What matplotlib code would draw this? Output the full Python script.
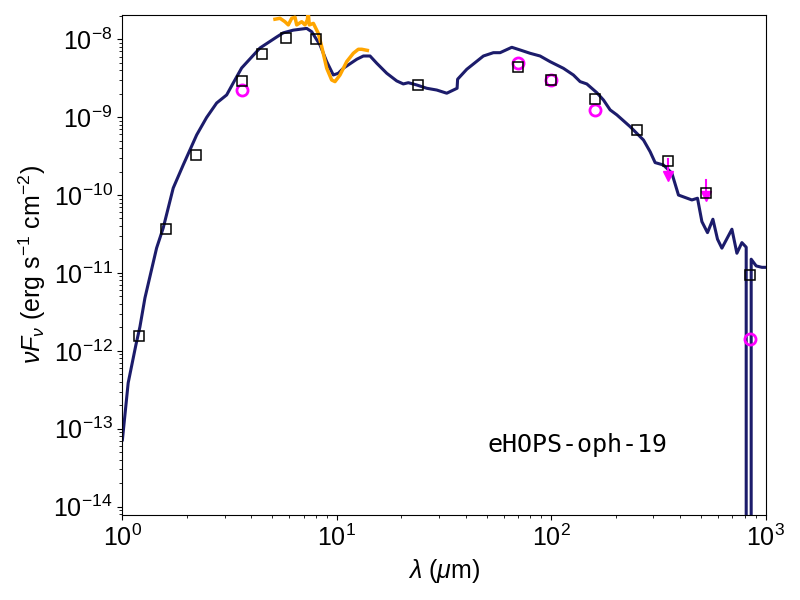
import numpy as np
import matplotlib
matplotlib.use("Agg")
import matplotlib.pyplot as plt

plt.rcParams['font.family'] = ['Liberation Sans', 'DejaVu Sans']
plt.rcParams['mathtext.fontset'] = 'custom'
plt.rcParams['mathtext.rm'] = 'Liberation Sans'
plt.rcParams['mathtext.it'] = 'Liberation Sans:italic'
plt.rcParams['mathtext.bf'] = 'Liberation Sans:bold'

# model SED (wavelength in micron, nuFnu in erg/s/cm^2)
model_wave = [1.0, 1.064, 1.156, 1.207, 1.274, 1.444, 1.55, 1.726, 1.921,
              2.22, 2.47, 2.752, 3.064, 3.289, 3.599, 4.382, 5.244, 5.628, 6.266, 7.236,
              7.636, 8.35, 8.974, 9.632, 10.16, 10.72, 12.39, 13.3, 14.29, 15.36,
              17.1, 19.03, 20.43, 21.56, 23.6, 26.27, 29.26, 32.57, 36.4, 36.6,
              40.38, 48.28, 53.75, 57.77, 65.5, 71.61, 79.71, 88.75, 98.83, 114.0,
              126.9, 136.4, 146.6, 163.3, 175.3, 188.3, 202.4, 233.4, 269.4, 289.4,
              305.3, 333.9, 365.4, 392.3, 453.1, 481.2, 504.5, 535.8, 567.8, 596.6,
              625.4, 696.4, 734.7, 775.2, 811.9, 834.0, 856.6, 903.8, 961.0, 1000.0]
model_flux = [7.18e-14, 3.87e-13, 1.19e-12, 2.03e-12, 4.78e-12, 2.09e-11, 3.78e-11, 1.23e-10, 2.43e-10,
              5.91e-10, 9.9e-10, 1.52e-9, 1.93e-9, 2.75e-9, 4.28e-9, 7.73e-9, 1.07e-8, 1.21e-8, 1.31e-8, 1.38e-8,
              1.25e-8, 8.45e-9, 5.16e-9, 3.48e-9, 3.66e-9, 4.24e-9, 5.54e-9, 6.10e-9, 6.10e-9, 4.92e-9,
              3.66e-9, 2.92e-9, 2.67e-9, 2.77e-9, 2.59e-9, 2.35e-9, 2.23e-9, 2.03e-9, 2.35e-9, 3.07e-9,
              4.12e-9, 6.10e-9, 6.73e-9, 6.73e-9, 7.89e-9, 7.29e-9, 6.61e-9, 6.10e-9, 5.16e-9, 4.24e-9,
              3.48e-9, 2.86e-9, 2.67e-9, 2.06e-9, 1.66e-9, 1.24e-9, 1.07e-9, 7.55e-10, 5.09e-10, 3.60e-10,
              2.61e-10, 2.43e-10, 1.91e-10, 1.00e-10, 8.65e-11, 9.10e-11, 4.56e-11, 3.29e-11, 4.89e-11, 2.71e-11,
              2.08e-11, 3.64e-11, 1.79e-11, 2.45e-11, 2.14e-11, -1.0e-11, 1.50e-11, 1.23e-11, 1.18e-11, 1.18e-11]

# IRS spectrum
irs_wave = [5.148, 5.433, 5.732, 5.94, 6.162, 6.383, 6.501, 6.859, 7.107, 7.284,
            7.362, 7.442, 7.776, 8.199, 8.504, 8.974, 9.467, 9.808, 10.35, 11.12,
            11.94, 12.6, 13.07, 13.88]
irs_flux = [1.81e-8, 1.86e-8, 1.68e-8, 1.53e-8, 1.86e-8, 1.92e-8, 1.53e-8, 1.68e-8, 1.53e-8, 1.77e-8,
            2.18e-8, 1.53e-8, 1.60e-8, 1.19e-8, 8.04e-9, 4.24e-9, 3.00e-9, 2.86e-9, 3.48e-9, 5.16e-9,
            6.61e-9, 7.44e-9, 7.44e-9, 7.2e-9]

# photometry (squares)
phot_wave = [1.2, 1.6, 2.2, 3.6, 4.5, 5.8, 8.0, 24, 70, 100, 160, 250, 350, 530, 850]
phot_flux = [1.55e-12, 3.67e-11, 3.26e-10, 2.9e-9, 6.45e-9, 1.04e-8, 1.0e-8, 2.58e-9,
             4.4e-9, 3.04e-9, 1.73e-9, 6.76e-10, 2.74e-10, 1.06e-10, 9.5e-12]

# other photometry (circles)
circ_wave = [3.6, 70, 100, 160, 850]
circ_flux = [2.26e-9, 4.95e-9, 2.98e-9, 1.25e-9, 1.41e-12]

# upper limits
ul_wave = [350, 530]
ul_top = [2.9e-10, 1.56e-10]
ul_bot = [1.76e-10, 9.74e-11]

fig = plt.figure(figsize=(8, 6), dpi=100)
ax = fig.add_axes([0.153, 0.1417, 0.804, 0.8333])
ax.set_xscale('log')
ax.set_yscale('log')

ax.plot(model_wave, model_flux, color='#1c1c6b', lw=2.2, zorder=2)
ax.plot(irs_wave, irs_flux, color='orange', lw=2.5, zorder=3)
ax.plot(circ_wave, circ_flux, 'o', ms=8, mfc='none', mec='magenta', mew=2, zorder=4)
for w, t, b in zip(ul_wave, ul_top, ul_bot):
    ax.plot([w, w], [t, b], color='magenta', lw=1.5, zorder=4)
ax.plot(ul_wave, ul_bot, 'v', color='magenta', ms=7, zorder=4)
ax.plot(phot_wave, phot_flux, 's', ms=6.5, mfc='none', mec='black', mew=1.1, zorder=5)

ax.set_xlim(1, 1000)
ax.set_ylim(7.8e-15, 2.05e-8)
ax.tick_params(labelsize=18)
ax.set_xlabel(r'$\lambda$ ($\mu$m)', fontsize=18)
ax.set_ylabel(r'$\nu F_\nu$ (erg s$^{-1}$ cm$^{-2}$)', fontsize=18)
ax.text(0.567, 0.14, 'eHOPS-oph-19', transform=ax.transAxes, fontsize=18,
        family='DejaVu Sans Mono', va='center', ha='left')

fig.savefig('out.png', dpi=100)
